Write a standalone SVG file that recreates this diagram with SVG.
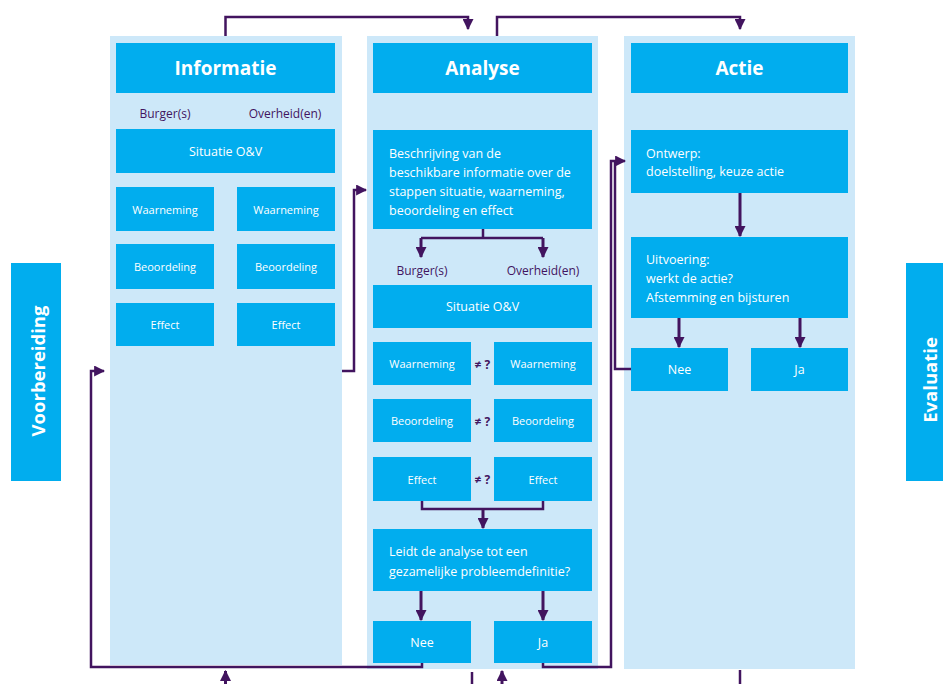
<svg xmlns="http://www.w3.org/2000/svg" width="943" height="684" viewBox="0 0 943 684">
<defs>
<marker id="ah" viewBox="0 0 10 10" refX="9" refY="5" markerWidth="11" markerHeight="11" markerUnits="userSpaceOnUse" orient="auto">
<path d="M0,0 L10,5 L0,10 z" fill="#42145f"/>
</marker>
<style>
.panel{fill:#cde8f9}
.box{fill:#01adee}
.hd{font-family:"Open Sans","Liberation Sans",sans-serif;font-weight:700;font-size:19px;fill:#fff;text-anchor:middle;dominant-baseline:central}
.t{font-family:"Open Sans","Liberation Sans",sans-serif;font-size:12.5px;fill:#fff}
.c{text-anchor:middle;dominant-baseline:central}
.s{font-family:"Open Sans","Liberation Sans",sans-serif;font-size:11px;fill:#fff;text-anchor:middle;dominant-baseline:central}
.lbl{font-family:"Open Sans","Liberation Sans",sans-serif;font-size:12px;font-weight:500;fill:#42145f;text-anchor:middle;dominant-baseline:central}
.ne{font-family:"Open Sans","Liberation Sans",sans-serif;font-size:12px;font-weight:700;fill:#42145f;text-anchor:middle;dominant-baseline:central}
.side{font-family:"Open Sans","Liberation Sans",sans-serif;font-weight:700;font-size:18.5px;fill:#fff;text-anchor:middle;dominant-baseline:central}
.ln{fill:none;stroke:#42145f;stroke-width:2.5}
.ar{fill:none;stroke:#42145f;stroke-width:3;marker-end:url(#ah)}
</style>
</defs>
<rect width="943" height="684" fill="#fff"/>

<g id="voorbereiding">
<rect class="box" x="11" y="263" width="50" height="218"/>
<text class="side" transform="translate(37,371) rotate(-90)">Voorbereiding</text>
</g>
<g id="evaluatie">
<rect class="box" x="906" y="263" width="40" height="218"/>
<text class="side" transform="translate(929,380) rotate(-90)">Evaluatie</text>
</g>

<g id="informatie">
<rect class="panel" x="110" y="36" width="232" height="629"/>
<rect class="box" x="116" y="43" width="219" height="50"/>
<text class="hd" x="225.5" y="68">Informatie</text>
<text class="lbl" x="165" y="113">Burger(s)</text>
<text class="lbl" x="285" y="113">Overheid(en)</text>
<g id="info-situatie"><rect class="box" x="116" y="129" width="219" height="44"/><text class="t c" x="225.5" y="151">Situatie O&amp;V</text></g>
<g id="info-waarneming-b"><rect class="box" x="116" y="187" width="98" height="44"/><text class="s" x="165" y="209">Waarneming</text></g>
<g id="info-waarneming-o"><rect class="box" x="237" y="187" width="98" height="44"/><text class="s" x="286" y="209">Waarneming</text></g>
<g id="info-beoordeling-b"><rect class="box" x="116" y="244" width="98" height="45"/><text class="s" x="165" y="266.5">Beoordeling</text></g>
<g id="info-beoordeling-o"><rect class="box" x="237" y="244" width="98" height="45"/><text class="s" x="286" y="266.5">Beoordeling</text></g>
<g id="info-effect-b"><rect class="box" x="116" y="303" width="98" height="43"/><text class="s" x="165" y="324.5">Effect</text></g>
<g id="info-effect-o"><rect class="box" x="237" y="303" width="98" height="43"/><text class="s" x="286" y="324.5">Effect</text></g>
</g>

<g id="analyse">
<rect class="panel" x="367" y="36" width="231" height="633"/>
<rect class="box" x="373" y="43" width="219" height="50"/>
<text class="hd" x="482.5" y="68">Analyse</text>
<g id="an-beschrijving"><rect class="box" x="373" y="130" width="219" height="99"/>
<text class="t" x="389" y="158">Beschrijving van de</text>
<text class="t" x="389" y="177">beschikbare informatie over de</text>
<text class="t" x="389" y="196">stappen situatie, waarneming,</text>
<text class="t" x="389" y="215">beoordeling en effect</text></g>
<text class="lbl" x="422" y="270">Burger(s)</text>
<text class="lbl" x="543" y="270">Overheid(en)</text>
<g id="an-situatie"><rect class="box" x="373" y="285" width="219" height="43"/><text class="t c" x="482.5" y="306.5">Situatie O&amp;V</text></g>
<g id="an-waarneming-b"><rect class="box" x="373" y="342" width="98" height="43"/><text class="s" x="422" y="363.5">Waarneming</text></g>
<g id="an-waarneming-o"><rect class="box" x="494" y="342" width="98" height="43"/><text class="s" x="543" y="363.5">Waarneming</text></g>
<text class="ne" x="482.5" y="364">≠ ?</text>
<g id="an-beoordeling-b"><rect class="box" x="373" y="399" width="98" height="43"/><text class="s" x="422" y="420.5">Beoordeling</text></g>
<g id="an-beoordeling-o"><rect class="box" x="494" y="399" width="98" height="43"/><text class="s" x="543" y="420.5">Beoordeling</text></g>
<text class="ne" x="482.5" y="421">≠ ?</text>
<g id="an-effect-b"><rect class="box" x="373" y="457" width="98" height="44"/><text class="s" x="422" y="479">Effect</text></g>
<g id="an-effect-o"><rect class="box" x="494" y="457" width="98" height="44"/><text class="s" x="543" y="479">Effect</text></g>
<text class="ne" x="482.5" y="479">≠ ?</text>
<g id="an-leidt"><rect class="box" x="373" y="529" width="219" height="62"/>
<text class="t" x="389" y="556">Leidt de analyse tot een</text>
<text class="t" x="389" y="576">gezamelijke probleemdefinitie?</text></g>
<g id="an-nee"><rect class="box" x="373" y="621" width="98" height="42"/><text class="t c" x="422" y="642">Nee</text></g>
<g id="an-ja"><rect class="box" x="494" y="621" width="98" height="42"/><text class="t c" x="543" y="642">Ja</text></g>
</g>

<g id="actie">
<rect class="panel" x="624" y="36" width="231" height="633"/>
<rect class="box" x="631" y="43" width="217" height="50"/>
<text class="hd" x="739.5" y="68">Actie</text>
<g id="ac-ontwerp"><rect class="box" x="631" y="130" width="217" height="63"/>
<text class="t" x="646" y="158">Ontwerp:</text>
<text class="t" x="646" y="176">doelstelling, keuze actie</text></g>
<g id="ac-uitvoering"><rect class="box" x="631" y="237" width="217" height="81"/>
<text class="t" x="646" y="264">Uitvoering:</text>
<text class="t" x="646" y="283">werkt de actie?</text>
<text class="t" x="646" y="302">Afstemming en bijsturen</text></g>
<g id="ac-nee"><rect class="box" x="631" y="348" width="97" height="43"/><text class="t c" x="679.5" y="369.5">Nee</text></g>
<g id="ac-ja"><rect class="box" x="751" y="348" width="97" height="43"/><text class="t c" x="799.5" y="369.5">Ja</text></g>
</g>

<g id="connectors">
<path class="ln" d="M225.5,36 V17 H468 V29" marker-end="url(#ah)"/>
<path class="ln" d="M497,36 V17 H740 V29" marker-end="url(#ah)"/>
<path class="ln" d="M342,371 H354 V190 H366" marker-end="url(#ah)"/>
<path class="ln" d="M422,663 V667 H91 V371 H104" marker-end="url(#ah)"/>
<path class="ln" d="M543,663 V667 H611 V161 H625" marker-end="url(#ah)"/>
<path class="ln" d="M631,369 H615 V161"/>
<path class="ln" d="M483,229 V238 M421,238 H543"/>
<path class="ar" d="M421,238 V257"/>
<path class="ar" d="M543,238 V257"/>
<path class="ln" d="M422,501 V509 H543 V501"/>
<path class="ar" d="M483,509 V528"/>
<path class="ar" d="M421,591 V620"/>
<path class="ar" d="M543,591 V620"/>
<path class="ar" d="M740,193 V236"/>
<path class="ar" d="M679,318 V347"/>
<path class="ar" d="M800,318 V347"/>
<path class="ar" d="M225.5,684 V671"/>
<path class="ar" d="M502,684 V671"/>
<path class="ln" d="M472,672 V684"/>
<path class="ln" d="M740,670 V684"/>
</g>
</svg>
